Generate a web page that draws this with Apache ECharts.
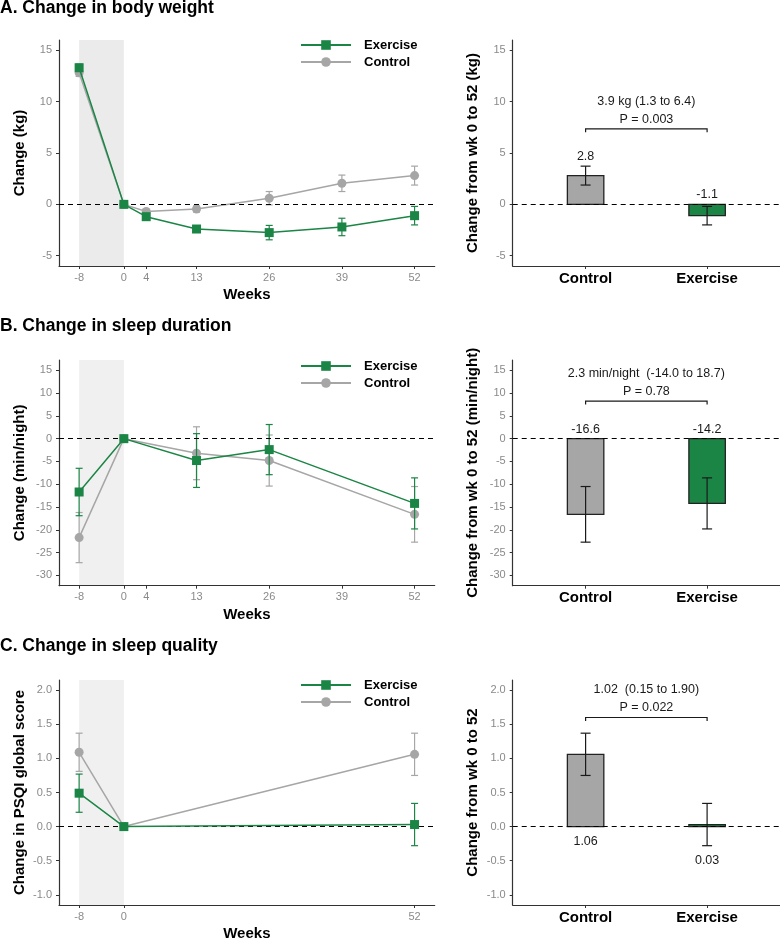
<!DOCTYPE html>
<html><head><meta charset="utf-8">
<script src="https://cdn.jsdelivr.net/npm/echarts@6/dist/echarts.min.js"></script>
<style>html,body{margin:0;padding:0;background:#fff}#c{width:780px;height:940px}</style>
</head><body><div id="c"></div>
<script>
// ---------------- DATA ----------------
const panelTitles = ['A. Change in body weight', 'B. Change in sleep duration', 'C. Change in sleep quality'];
const leftYNames = ['Change (kg)', 'Change (min/night)', 'Change in PSQI global score'];
const rightYNames = ['Change from wk 0 to 52 (kg)', 'Change from wk 0 to 52 (min/night)', 'Change from wk 0 to 52'];
const xName = 'Weeks';
const groups = ['Control', 'Exercise'];
const seriesNames = ['Exercise', 'Control'];

// Panel A: body weight
const weeksA = [-8, 0, 4, 13, 26, 39, 52];
const exerciseA = [13.3, 0, -1.2, -2.4, -2.75, -2.2, -1.1];
const exerciseErrA = [0.35, 0, 0.2, 0.3, 0.7, 0.85, 0.9];
const controlA = [12.8, 0, -0.7, -0.45, 0.6, 2.05, 2.8];
const controlErrA = [0.35, 0, 0.2, 0.3, 0.65, 0.8, 0.92];
const xTicksA = [-8, 0, 4, 13, 26, 39, 52];
const yTicksA = [-5, 0, 5, 10, 15];
const barA = [2.8, -1.1];
const barErrA = [0.92, 0.9];
const bracketA = ['3.9 kg (1.3 to 6.4)', 'P = 0.003'];
const bracketYA = 7.35;

// Panel B: sleep duration
const weeksB = [-8, 0, 13, 26, 52];
const exerciseB = [-11.7, 0, -4.8, -2.4, -14.2];
const exerciseErrB = [5.2, 0, 5.9, 5.5, 5.6];
const controlB = [-21.7, 0, -3.2, -4.8, -16.6];
const controlErrB = [5.5, 0, 5.8, 5.6, 6.1];
const xTicksB = [-8, 0, 4, 13, 26, 39, 52];
const yTicksB = [-30, -25, -20, -15, -10, -5, 0, 5, 10, 15];
const barB = [-16.6, -14.2];
const barErrB = [6.1, 5.6];
const bracketB = ['2.3 min/night  (-14.0 to 18.7)', 'P = 0.78'];
const bracketYB = 8.25;

// Panel C: sleep quality (PSQI)
const weeksC = [-8, 0, 52];
const exerciseC = [0.49, 0, 0.03];
const exerciseErrC = [0.28, 0, 0.31];
const controlC = [1.09, 0, 1.06];
const controlErrC = [0.28, 0, 0.31];
const xTicksC = [-8, 0, 52];
const yTicksC = [-1.0, -0.5, 0.0, 0.5, 1.0, 1.5, 2.0];
const barC = [1.06, 0.03];
const barErrC = [0.31, 0.31];
const bracketC = ['1.02  (0.15 to 1.90)', 'P = 0.022'];
const bracketYC = 1.6;

const runIn = [-8, 0];

// ---------------- STYLE / LAYOUT ----------------
const GREEN = '#1B8545', GREY = '#A6A6A6', AXIS = '#333333', TICKC = '#8A8A8A', TXT = '#1a1a1a';
const FONT = 'Liberation Sans, Arial, Helvetica, sans-serif';
const gridTop = [40, 360, 680];
const gridBottomY = [266, 585.7, 905];
const titleTop = [-1, 317.5, 637.5];
const legendTop = [38.5, 359.5, 678.5];
const yMin = [-6, -32.25, -1.15];
const yMax = [16, 17.25, 2.15];
const yDec = [0, 0, 1];
const barDec = [1, 1, 2];
const labelBelow = [false, false, true];
const shadeColor = ['#EBEBEB', '#F0F0F0', '#F0F0F0'];

const panels = [
  {weeks: weeksA, ex: exerciseA, exErr: exerciseErrA, ct: controlA, ctErr: controlErrA, xt: xTicksA, yt: yTicksA, bar: barA, barErr: barErrA, br: bracketA, brY: bracketYA},
  {weeks: weeksB, ex: exerciseB, exErr: exerciseErrB, ct: controlB, ctErr: controlErrB, xt: xTicksB, yt: yTicksB, bar: barB, barErr: barErrB, br: bracketB, brY: bracketYB},
  {weeks: weeksC, ex: exerciseC, exErr: exerciseErrC, ct: controlC, ctErr: controlErrC, xt: xTicksC, yt: yTicksC, bar: barC, barErr: barErrC, br: bracketC, brY: bracketYC}
];

function errRender(capHalf, color, lw) {
  return function (params, api) {
    const x = api.value(0), lo = api.value(1), hi = api.value(2);
    if (hi === lo) return null;
    const a = api.coord([x, hi]), b = api.coord([x, lo]);
    const st = {stroke: color, lineWidth: lw};
    return {type: 'group', children: [
      {type: 'line', shape: {x1: a[0], y1: a[1], x2: b[0], y2: b[1]}, style: st},
      {type: 'line', shape: {x1: a[0] - capHalf, y1: a[1], x2: a[0] + capHalf, y2: a[1]}, style: st},
      {type: 'line', shape: {x1: b[0] - capHalf, y1: b[1], x2: b[0] + capHalf, y2: b[1]}, style: st}
    ]};
  };
}

const grids = [], xAxes = [], yAxes = [], series = [], titles = [], legends = [];

function axisCommon() {
  return {
    axisLine: {show: true, onZero: false, lineStyle: {color: AXIS, width: 1.2}},
    axisTick: {show: true, length: 3, lineStyle: {color: AXIS, width: 1}},
    splitLine: {show: false}
  };
}

panels.forEach((p, i) => {
  const top = gridTop[i], h = gridBottomY[i] - gridTop[i];
  const li = i * 2, ri = i * 2 + 1;
  grids.push({left: 59, width: 375.7, top: top, height: h, containLabel: false, outerBoundsMode: 'none'});
  grids.push({left: 512.7, right: 0, top: top, height: h, containLabel: false, outerBoundsMode: 'none'});

  titles.push({text: panelTitles[i], left: 0, top: titleTop[i], padding: 0,
    textStyle: {fontSize: 17.5, fontWeight: 'bold', color: '#000', fontFamily: FONT}});

  // left x axis (weeks)
  xAxes.push(Object.assign(axisCommon(), {
    type: 'value', gridIndex: li, min: -11.6, max: 55.6,
    name: xName, nameLocation: 'middle', nameGap: 21.5,
    nameTextStyle: {fontSize: 15, fontWeight: 'bold', color: '#000', fontFamily: FONT},
    axisTick: {show: true, length: 3, lineStyle: {color: AXIS}, customValues: p.xt},
    axisLabel: {customValues: p.xt, color: TICKC, fontSize: 11, margin: 6, fontFamily: FONT}
  }));
  // right x axis (groups)
  xAxes.push(Object.assign(axisCommon(), {
    type: 'value', gridIndex: ri, min: 0.4, max: 2.6,
    axisTick: {show: true, length: 3, lineStyle: {color: AXIS}, customValues: [1, 2]},
    axisLabel: {customValues: [1, 2], formatter: v => groups[Math.round(v) - 1] || '',
      color: '#000', fontSize: 15, fontWeight: 'bold', margin: 5, fontFamily: FONT}
  }));
  const yl = {customValues: p.yt, color: TICKC, fontSize: 11, margin: 7, fontFamily: FONT,
    formatter: v => v.toFixed(yDec[i])};
  yAxes.push(Object.assign(axisCommon(), {
    type: 'value', gridIndex: li, min: yMin[i], max: yMax[i],
    name: leftYNames[i], nameLocation: 'middle', nameGap: 32,
    nameTextStyle: {fontSize: 15, fontWeight: 'bold', color: '#000', fontFamily: FONT},
    axisTick: {show: true, length: 3, lineStyle: {color: AXIS}, customValues: p.yt},
    axisLabel: yl
  }));
  yAxes.push(Object.assign(axisCommon(), {
    type: 'value', gridIndex: ri, min: yMin[i], max: yMax[i],
    name: rightYNames[i], nameLocation: 'middle', nameGap: 32,
    nameTextStyle: {fontSize: 15, fontWeight: 'bold', color: '#000', fontFamily: FONT},
    axisTick: {show: true, length: 3, lineStyle: {color: AXIS}, customValues: p.yt},
    axisLabel: yl
  }));

  const zeroLine = {
    silent: true, symbol: 'none', label: {show: false},
    lineStyle: {color: '#000', type: [5, 4], width: 1.2},
    data: [{yAxis: 0}]
  };

  // shading for run-in period + zero line
  series.push({
    type: 'custom', name: 'runin' + i, xAxisIndex: li, yAxisIndex: li, z: 0, silent: true,
    data: [[runIn[0], runIn[1]]],
    renderItem: (params, api) => {
      const cs = params.coordSys;
      const a = api.coord([api.value(0), 0]), b = api.coord([api.value(1), 0]);
      return {type: 'rect', shape: {x: a[0], y: cs.y, width: b[0] - a[0], height: cs.height},
        style: {fill: shadeColor[i]}};
    },
    markLine: zeroLine
  });

  // control
  series.push({type: 'custom', name: 'ctErr' + i, xAxisIndex: li, yAxisIndex: li, z: 2, silent: true,
    data: p.weeks.map((w, k) => [w, p.ct[k] - p.ctErr[k], p.ct[k] + p.ctErr[k]]),
    renderItem: errRender(3.5, GREY, 1.2)});
  series.push({type: 'line', name: 'Control', xAxisIndex: li, yAxisIndex: li, z: 3,
    data: p.weeks.map((w, k) => [w, p.ct[k]]),
    symbol: 'circle', symbolSize: 9, color: GREY,
    lineStyle: {color: GREY, width: 1.5}, itemStyle: {color: GREY}});
  // exercise
  series.push({type: 'custom', name: 'exErr' + i, xAxisIndex: li, yAxisIndex: li, z: 4, silent: true,
    data: p.weeks.map((w, k) => [w, p.ex[k] - p.exErr[k], p.ex[k] + p.exErr[k]]),
    renderItem: errRender(3.5, GREEN, 1.2)});
  series.push({type: 'line', name: 'Exercise', xAxisIndex: li, yAxisIndex: li, z: 5,
    data: p.weeks.map((w, k) => [w, p.ex[k]]),
    symbol: 'rect', symbolSize: 9, color: GREEN,
    lineStyle: {color: GREEN, width: 1.5}, itemStyle: {color: GREEN}});

  // right panel bars
  const barColors = [GREY, GREEN];
  series.push({
    type: 'custom', name: 'bars' + i, xAxisIndex: ri, yAxisIndex: ri, z: 2, silent: true,
    data: p.bar.map((v, k) => [k + 1, v, p.barErr[k]]),
    renderItem: (params, api) => {
      const x = api.value(0), v = api.value(1), e = api.value(2);
      const a = api.coord([x - 0.15, v]), b = api.coord([x + 0.15, 0]);
      const hi = api.coord([x, v + e]), lo = api.coord([x, v - e]);
      const idx = params.dataIndex;
      const st = {stroke: '#1a1a1a', lineWidth: 1.2};
      let label;
      if (labelBelow[i]) {
        const anc = api.coord([x, Math.min(0, v - e)]);
        label = {type: 'text', style: {text: v.toFixed(barDec[i]), x: anc[0], y: anc[1] + 8.5,
          align: 'center', verticalAlign: 'top', fill: TXT, fontSize: 12.5, fontFamily: FONT}};
      } else {
        const anc = api.coord([x, Math.max(0, v + e)]);
        label = {type: 'text', style: {text: v.toFixed(barDec[i]), x: anc[0], y: anc[1] - 3,
          align: 'center', verticalAlign: 'bottom', fill: TXT, fontSize: 12.5, fontFamily: FONT}};
      }
      return {type: 'group', children: [
        {type: 'rect', shape: {x: Math.min(a[0], b[0]), y: Math.min(a[1], b[1]),
          width: Math.abs(b[0] - a[0]), height: Math.abs(b[1] - a[1])},
          style: {fill: barColors[idx], stroke: '#222', lineWidth: 1.3}},
        {type: 'line', shape: {x1: hi[0], y1: hi[1], x2: lo[0], y2: lo[1]}, style: st},
        {type: 'line', shape: {x1: hi[0] - 5, y1: hi[1], x2: hi[0] + 5, y2: hi[1]}, style: st},
        {type: 'line', shape: {x1: lo[0] - 5, y1: lo[1], x2: lo[0] + 5, y2: lo[1]}, style: st},
        label
      ]};
    },
    markLine: zeroLine
  });

  // bracket with comparison text
  series.push({
    type: 'custom', name: 'bracket' + i, xAxisIndex: ri, yAxisIndex: ri, z: 3, silent: true,
    data: [[1, 2, p.brY]],
    renderItem: (params, api) => {
      const a = api.coord([api.value(0), api.value(2)]), b = api.coord([api.value(1), api.value(2)]);
      const mx = (a[0] + b[0]) / 2;
      return {type: 'group', children: [
        {type: 'polyline', shape: {points: [[a[0], a[1] + 3.5], [a[0], a[1]], [b[0], b[1]], [b[0], b[1] + 3.5]]},
          style: {stroke: '#1a1a1a', lineWidth: 1.2, fill: null}},
        {type: 'text', style: {text: p.br[1], x: mx, y: a[1] - 3, align: 'center', verticalAlign: 'bottom',
          fill: TXT, fontSize: 12.5, fontFamily: FONT}},
        {type: 'text', style: {text: p.br[0], x: mx, y: a[1] - 21, align: 'center', verticalAlign: 'bottom',
          fill: TXT, fontSize: 12.5, fontFamily: FONT}}
      ]};
    }
  });

  legends.push({
    data: seriesNames, orient: 'vertical', left: 300, top: legendTop[i],
    itemWidth: 50, itemHeight: 12, itemGap: 4, padding: 0, selectedMode: false,
    textStyle: {fontSize: 13, fontWeight: 'bold', color: '#000', fontFamily: FONT, padding: [0, 0, 0, 8]}
  });
});

const chart = echarts.init(document.getElementById('c'));
chart.setOption({
  animation: false,
  backgroundColor: '#fff',
  textStyle: {fontFamily: FONT},
  title: titles,
  legend: legends,
  grid: grids,
  xAxis: xAxes,
  yAxis: yAxes,
  series: series
});
</script>
</body></html>
